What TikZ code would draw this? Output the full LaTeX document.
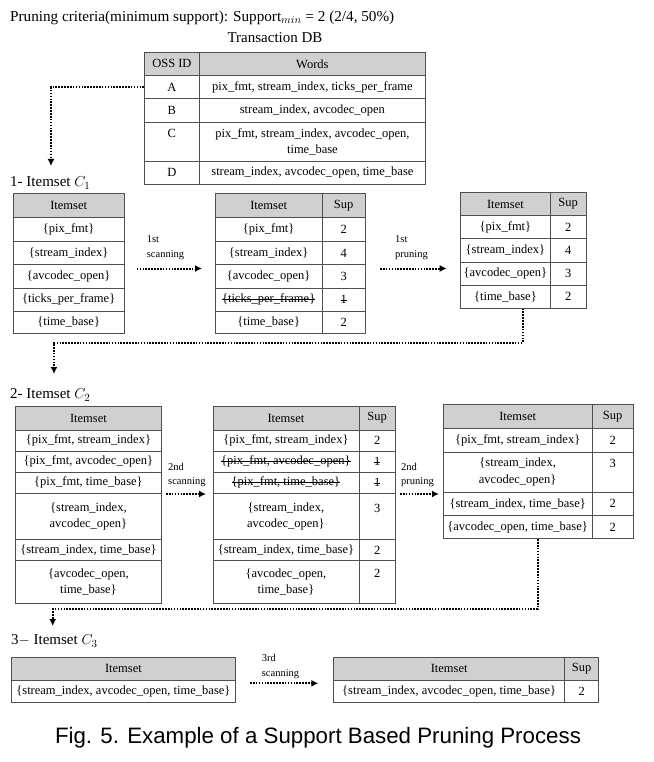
\documentclass[tikz,border=0pt]{standalone}
\usepackage{fontspec}
\setmainfont{Liberation Serif}
\newfontfamily\capfont{Liberation Sans}
\usetikzlibrary{arrows.meta}
\definecolor{tblline}{HTML}{505050}
\definecolor{headgray}{HTML}{D0D0D0}
\newsavebox{\strikebox}
\newcommand{\mystrike}[1]{\sbox{\strikebox}{#1}\rlap{\rule[0.28em]{\wd\strikebox}{0.6pt}}\usebox{\strikebox}}
\newcommand{\mytabfont}{\fontsize{12.5}{16.5}\selectfont}
\newcommand{\mysmallfont}{\fontsize{10.5}{14.5}\selectfont}
\newcommand{\mylabfont}{\fontsize{15}{18}\selectfont}
\newcommand{\mkcell}[7][cellsty]{\node[#1, minimum width={(#5-#3)*1pt}, minimum height={(#6-#4)*1pt}] (#2) at (#3,#4) {#7};}
\tikzset{
  cellsty/.style={draw=tblline, line width=0.8pt, anchor=north west, inner sep=0pt, align=center, font=\mytabfont},
  headsty/.style={cellsty, fill=headgray},
  flow/.style={line width=2pt, dash pattern=on 1.6pt off 1.3pt, -{Latex[length=7pt,width=7pt]}},
  steplabel/.style={anchor=west, align=left, font=\mysmallfont, inner sep=0pt},
  labsty/.style={anchor=west, inner sep=0pt, font=\mylabfont},
}
\begin{document}
\begin{tikzpicture}[x=1pt,y=-1pt]
\fill[white] (0,0) rectangle (653,762);
\useasboundingbox (0,0) rectangle (653,762);

% header texts
\node[labsty, font=\fontsize{15.2}{18}\selectfont] (title) at (10,18) {Pruning criteria(minimum support): Support$_{min}$ = 2 (2/4, 50\%)};
\node[inner sep=0pt, font=\mylabfont] (tdb) at (275,38) {Transaction DB};

% Transaction DB
\mkcell[headsty]{tH1}{144}{52}{199}{75}{OSS ID}
\mkcell[headsty]{tH2}{199}{52}{425}{75}{Words}
\mkcell{tA}{144}{75}{199}{98.5}{A}
\mkcell{tAw}{199}{75}{425}{98.5}{pix\_fmt, stream\_index, ticks\_per\_frame}
\mkcell{tB}{144}{98.5}{199}{122}{B}
\mkcell{tBw}{199}{98.5}{425}{122}{stream\_index, avcodec\_open}
\mkcell{tC}{144}{122}{199}{161}{C\\\phantom{C}}
\mkcell{tCw}{199}{122}{425}{161}{pix\_fmt, stream\_index, avcodec\_open,\\time\_base}
\mkcell{tD}{144}{161}{199}{184}{D}
\mkcell{tDw}{199}{161}{425}{184}{stream\_index, avcodec\_open, time\_base}

\coordinate (k1) at (51,166);
\draw[flow] (tA.west) -| (k1);
\node[labsty] (lab1) at (10,183) {1- Itemset $C_1$};

% C1 table 1
\mkcell[headsty]{a0}{12.5}{193.3}{124}{217.3}{Itemset}
\mkcell{a1}{12.5}{217.3}{124}{241}{\{pix\_fmt\}}
\mkcell{a2}{12.5}{241}{124}{264.3}{\{stream\_index\}}
\mkcell{a3}{12.5}{264.3}{124}{287.7}{\{avcodec\_open\}}
\mkcell{a4}{12.5}{287.7}{124}{310.7}{\{ticks\_per\_frame\}}
\mkcell{a5}{12.5}{310.7}{124}{333.3}{\{time\_base\}}

% C1 table 2
\mkcell[headsty]{b0i}{214.5}{193.3}{322}{217.3}{Itemset}
\mkcell[headsty]{b0s}{322}{193.3}{364.5}{217.3}{Sup}
\mkcell{b1i}{214.5}{217.3}{322}{241}{\{pix\_fmt\}}
\mkcell{b1s}{322}{217.3}{364.5}{241}{2}
\mkcell{b2i}{214.5}{241}{322}{264.3}{\{stream\_index\}}
\mkcell{b2s}{322}{241}{364.5}{264.3}{4}
\mkcell{b3i}{214.5}{264.3}{322}{287.7}{\{avcodec\_open\}}
\mkcell{b3s}{322}{264.3}{364.5}{287.7}{3}
\mkcell{b4i}{214.5}{287.7}{322}{310.7}{\mystrike{\{ticks\_per\_frame\}}}
\mkcell{b4s}{322}{287.7}{364.5}{310.7}{\mystrike{1}}
\mkcell{b5i}{214.5}{310.7}{322}{333.3}{\{time\_base\}}
\mkcell{b5s}{322}{310.7}{364.5}{333.3}{2}

% C1 table 3
\mkcell[headsty]{c0i}{460}{192.3}{550}{215}{Itemset}
\mkcell[headsty]{c0s}{550}{192.3}{585.5}{215}{Sup}
\mkcell{c1i}{460}{215}{550}{238.3}{\{pix\_fmt\}}
\mkcell{c1s}{550}{215}{585.5}{238.3}{2}
\mkcell{c2i}{460}{238.3}{550}{261.7}{\{stream\_index\}}
\mkcell{c2s}{550}{238.3}{585.5}{261.7}{4}
\mkcell{c3i}{460}{261.7}{550}{285}{\{avcodec\_open\}}
\mkcell{c3s}{550}{261.7}{585.5}{285}{3}
\mkcell{c4i}{460}{285}{550}{307.7}{\{time\_base\}}
\mkcell{c4s}{550}{285}{585.5}{307.7}{2}

% C1 arrows
\node[steplabel] (s1) at (146.7,247.5) {1st\\scanning};
\coordinate (s1a) at (136.7,268.5);
\coordinate (s1b) at (202,268.5);
\draw[flow] (s1a) -- (s1b);
\node[steplabel] (p1) at (395,247.5) {1st\\pruning};
\coordinate (p1a) at (380,268.5);
\coordinate (p1b) at (446.7,268.5);
\draw[flow] (p1a) -- (p1b);

\coordinate (k2a) at (523,342.5);
\coordinate (k2) at (54,374);
\draw[flow] (k2a |- c4i.south) -- (k2a) -| (k2);
\node[labsty] (lab2) at (10,395) {2- Itemset $C_2$};

% C2 table 1
\mkcell[headsty]{d0}{15}{406}{161}{429.5}{Itemset}
\mkcell{d1}{15}{429.5}{161}{450.7}{\{pix\_fmt, stream\_index\}}
\mkcell{d2}{15}{450.7}{161}{471.7}{\{pix\_fmt, avcodec\_open\}}
\mkcell{d3}{15}{471.7}{161}{493}{\{pix\_fmt, time\_base\}}
\mkcell{d4}{15}{493}{161}{539.3}{\{stream\_index,\\avcodec\_open\}}
\mkcell{d5}{15}{539.3}{161}{560}{\{stream\_index, time\_base\}}
\mkcell{d6}{15}{560}{161}{602.7}{\{avcodec\_open,\\time\_base\}}

% C2 table 2
\mkcell[headsty]{e0i}{212.5}{406}{358.5}{429.5}{Itemset}
\mkcell[headsty]{e0s}{358.5}{406}{395}{429.5}{Sup}
\mkcell{e1i}{212.5}{429.5}{358.5}{450.7}{\{pix\_fmt, stream\_index\}}
\mkcell{e1s}{358.5}{429.5}{395}{450.7}{2}
\mkcell{e2i}{212.5}{450.7}{358.5}{471.7}{\mystrike{\{pix\_fmt, avcodec\_open\}}}
\mkcell{e2s}{358.5}{450.7}{395}{471.7}{\mystrike{1}}
\mkcell{e3i}{212.5}{471.7}{358.5}{493}{\mystrike{\{pix\_fmt, time\_base\}}}
\mkcell{e3s}{358.5}{471.7}{395}{493}{\mystrike{1}}
\mkcell{e4i}{212.5}{493}{358.5}{539.3}{\{stream\_index,\\avcodec\_open\}}
\mkcell{e4s}{358.5}{493}{395}{539.3}{3\\\phantom{3}}
\mkcell{e5i}{212.5}{539.3}{358.5}{560}{\{stream\_index, time\_base\}}
\mkcell{e5s}{358.5}{539.3}{395}{560}{2}
\mkcell{e6i}{212.5}{560}{358.5}{602.7}{\{avcodec\_open,\\time\_base\}}
\mkcell{e6s}{358.5}{560}{395}{602.7}{2\\\phantom{2}}

% C2 table 3
\mkcell[headsty]{f0i}{443}{404}{591.5}{428.3}{Itemset}
\mkcell[headsty]{f0s}{591.5}{404}{633}{428.3}{Sup}
\mkcell{f1i}{443}{428.3}{591.5}{451.7}{\{pix\_fmt, stream\_index\}}
\mkcell{f1s}{591.5}{428.3}{633}{451.7}{2}
\mkcell{f2i}{443}{451.7}{591.5}{491.7}{\{stream\_index,\\avcodec\_open\}}
\mkcell{f2s}{591.5}{451.7}{633}{491.7}{3\\\phantom{3}}
\mkcell{f3i}{443}{491.7}{591.5}{515}{\{stream\_index, time\_base\}}
\mkcell{f3s}{591.5}{491.7}{633}{515}{2}
\mkcell{f4i}{443}{515}{591.5}{538.3}{\{avcodec\_open, time\_base\}}
\mkcell{f4s}{591.5}{515}{633}{538.3}{2}

% C2 arrows
\node[steplabel] (s2) at (168,475) {2nd\\scanning};
\coordinate (s2a) at (166,494);
\coordinate (s2b) at (206,494);
\draw[flow] (s2a) -- (s2b);
\node[steplabel] (p2) at (401,475) {2nd\\pruning};
\coordinate (p2a) at (400,494);
\coordinate (p2b) at (439,494);
\draw[flow] (p2a) -- (p2b);

\coordinate (k3a) at (537.5,609);
\coordinate (k3) at (52.7,626);
\draw[flow] (k3a |- f4i.south) -- (k3a) -| (k3);
\node[labsty] (lab3) at (11,641) {3$-$ Itemset $C_3$};

% C3 tables
\mkcell[headsty]{g0}{11}{656.7}{235}{679.5}{Itemset}
\mkcell{g1}{11}{679.5}{235}{701.7}{\{stream\_index, avcodec\_open, time\_base\}}
\mkcell[headsty]{h0i}{333.3}{656.7}{564.3}{679.5}{Itemset}
\mkcell[headsty]{h0s}{564.3}{656.7}{598.3}{679.5}{Sup}
\mkcell{h1i}{333.3}{679.5}{564.3}{701.7}{\{stream\_index, avcodec\_open, time\_base\}}
\mkcell{h1s}{564.3}{679.5}{598.3}{701.7}{2}

\node[steplabel] (s3) at (261.7,666.5) {3rd\\scanning};
\coordinate (s3a) at (250,683.3);
\coordinate (s3b) at (318.3,683.3);
\draw[flow] (s3a) -- (s3b);

% caption
\node[inner sep=0pt, font=\capfont\fontsize{22.3}{26}\selectfont] (cap) at (318,738) {Fig. 5. Example of a Support Based Pruning Process};
\end{tikzpicture}
\end{document}
